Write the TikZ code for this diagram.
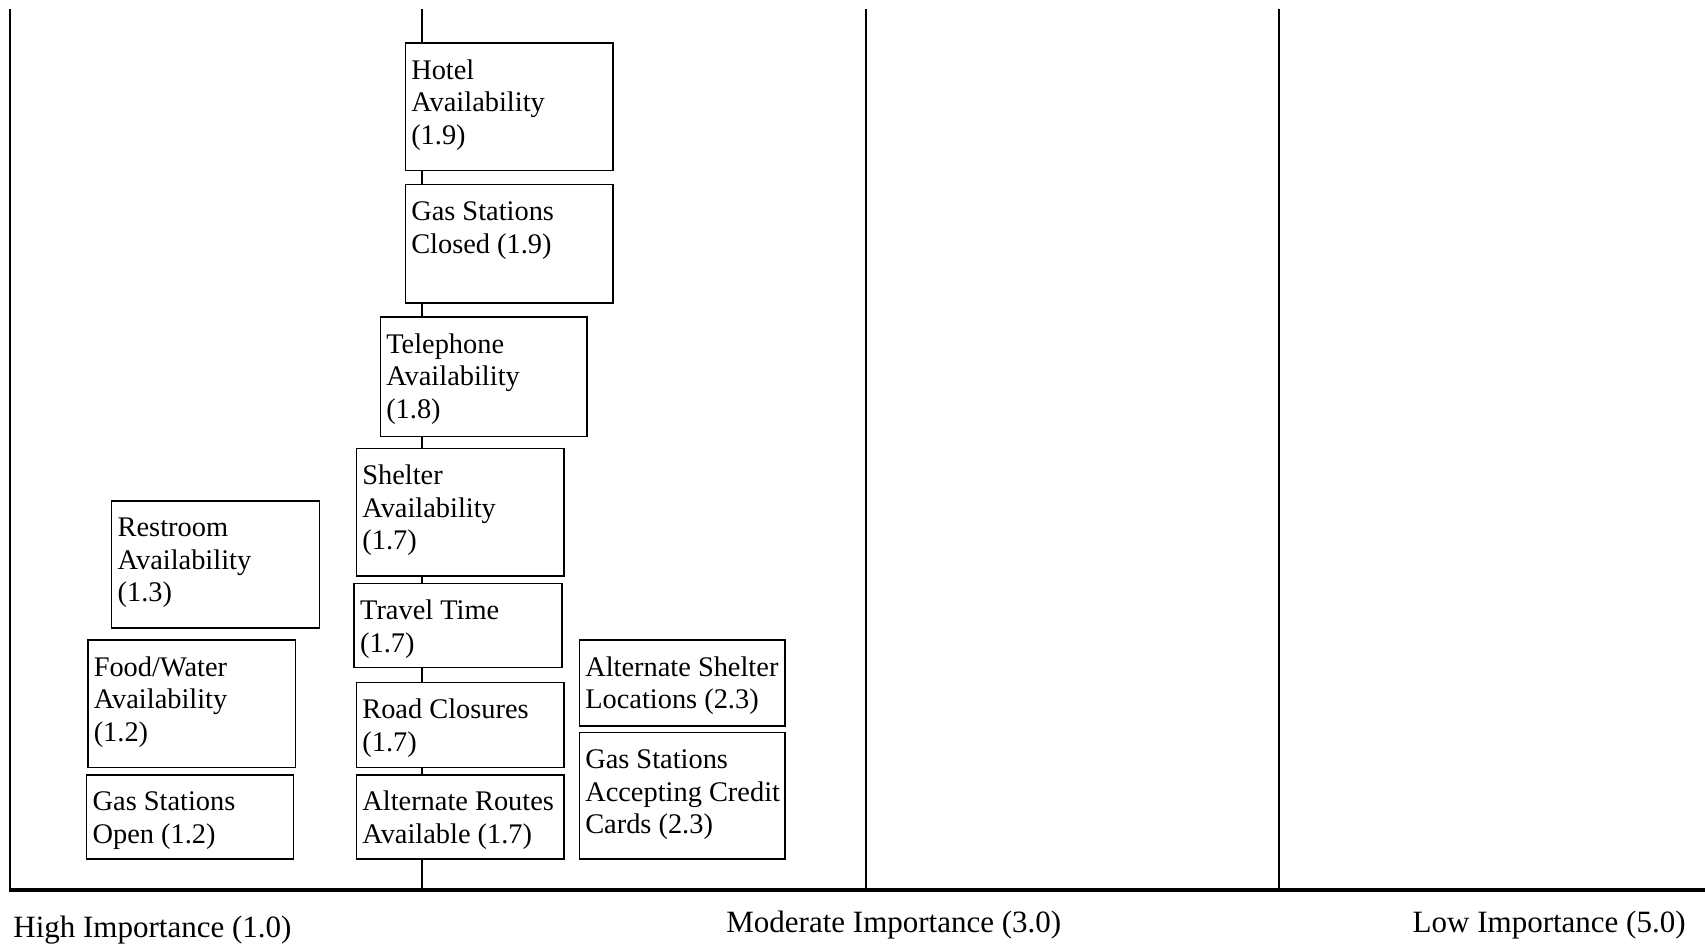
\documentclass[tikz,border=0pt]{standalone}
\usepackage{fontspec}
\setmainfont{Liberation Serif}
\newcommand\boxtext[3]{\parbox[c][\dimexpr #2pt/2\relax][t]{\dimexpr #1pt/2\relax}{\fontsize{14.2}{16.25}\selectfont\raggedright\leftskip=3pt\relax\rule{0pt}{18pt}#3}}
\begin{document}
\begin{tikzpicture}[x=0.5pt,y=-0.5pt,
  box/.style={draw, line width=0.75pt, fill=white, inner sep=0pt, anchor=north west},
  rule/.style={line width=0.75pt},
  axisline/.style={line width=2pt},
  lbl/.style={font=\fontsize{15.5}{18}\selectfont, inner sep=0pt}]
\useasboundingbox (0,0) rectangle (1705,946);
\coordinate (t0) at (10,9);   \coordinate (b0) at (10,890);
\coordinate (t1) at (422,9);  \coordinate (b1) at (422,890);
\coordinate (t2) at (866,9);  \coordinate (b2) at (866,890);
\coordinate (t3) at (1279,9); \coordinate (b3) at (1279,890);
\coordinate (axL) at (9,890); \coordinate (axR) at (1705,890);
\draw[rule] (t0) -- (b0);
\draw[rule] (t1) -- (b1);
\draw[rule] (t2) -- (b2);
\draw[rule] (t3) -- (b3);
\draw[axisline] (axL) -- (axR);
\node[box] (hotel) at (404.5,42.4) {\boxtext{207.7}{127.2}{Hotel\\Availability\\(1.9)}};
\node[box] (gsc) at (404.5,183.8) {\boxtext{207.7}{118.5}{Gas Stations\\Closed (1.9)}};
\node[box] (tel) at (379.5,316.4) {\boxtext{206.6}{119.6}{Telephone\\Availability\\(1.8)}};
\node[box] (shelter) at (355.6,448) {\boxtext{207.7}{127.2}{Shelter\\Availability\\(1.7)}};
\node[box] (restroom) at (110.9,500.2) {\boxtext{207.7}{127.2}{Restroom\\Availability\\(1.3)}};
\node[box] (travel) at (353.4,582.9) {\boxtext{207.7}{83.7}{Travel Time\\(1.7)}};
\node[box] (food) at (87,639.4) {\boxtext{207.7}{127.2}{Food/Water\\Availability\\(1.2)}};
\node[box] (altshelter) at (578.5,639.4) {\boxtext{205.5}{85.9}{Alternate Shelter\\Locations (2.3)}};
\node[box] (road) at (355.6,681.8) {\boxtext{207.7}{84.8}{Road Closures\\(1.7)}};
\node[box] (gso) at (85.9,774.2) {\boxtext{206.6}{83.8}{Gas Stations\\Open (1.2)}};
\node[box] (altroutes) at (355.6,774.2) {\boxtext{207.7}{83.8}{Alternate Routes\\Available (1.7)}};
\node[box] (gsacc) at (578.5,731.8) {\boxtext{205.5}{126.2}{Gas Stations\\Accepting Credit\\Cards (2.3)}};
\node[lbl, anchor=base west] (high) at (13,937) {High Importance (1.0)};
\node[lbl, anchor=base west] (mod) at (726,932) {Moderate Importance (3.0)};
\node[lbl, anchor=base east] (low) at (1686,932) {Low Importance (5.0)};
\end{tikzpicture}
\end{document}
